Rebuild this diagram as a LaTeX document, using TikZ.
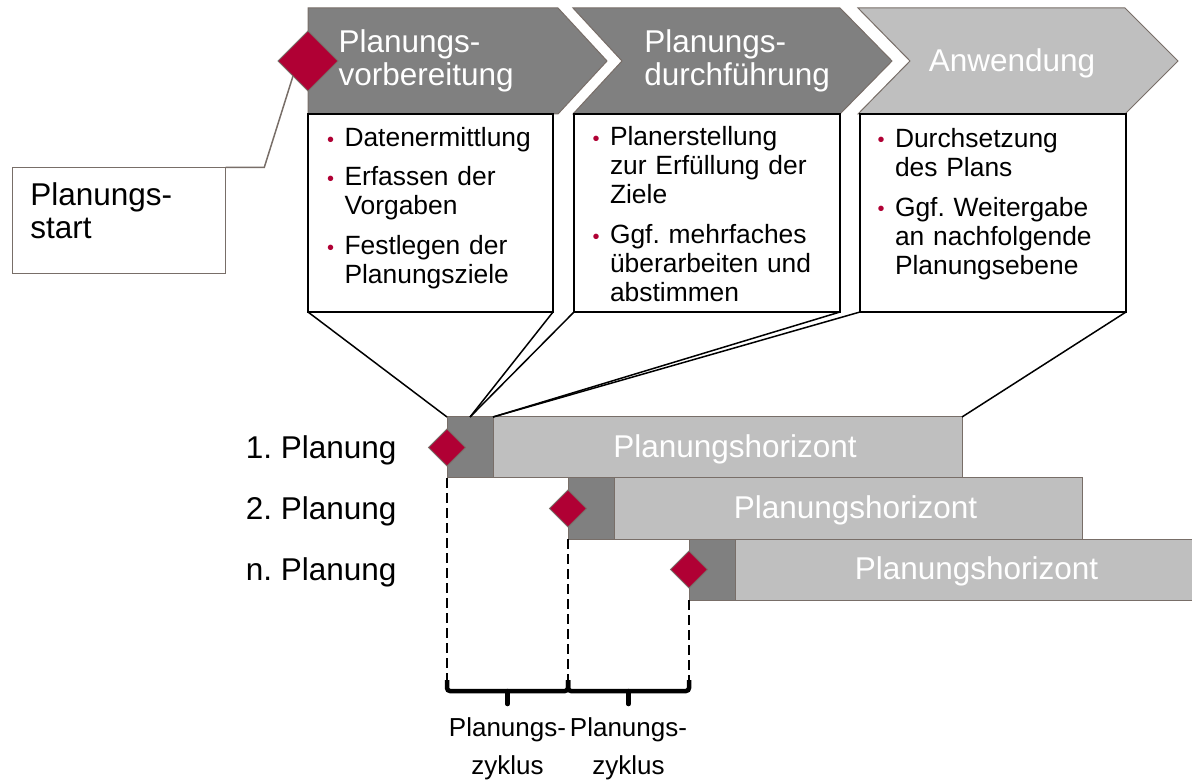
\documentclass[tikz,border=0pt]{standalone}
\usepackage{fontspec}
\setmainfont{Liberation Sans}
\usetikzlibrary{positioning,shapes.geometric,calc}
\definecolor{planred}{RGB}{176,0,52}
\definecolor{phasedark}{RGB}{128,128,128}
\definecolor{phaselight}{RGB}{191,191,191}
\definecolor{edgegray}{RGB}{120,110,104}
\tikzset{>=latex}
\newcommand\punkt[1]{\noindent\makebox[17.5pt][l]{\textcolor{planred}{\fontsize{20}{20}\selectfont\raisebox{0.5pt}{\char"2022}}}\parbox[t]{220pt}{\strut#1\strut}}

\begin{document}
\frenchspacing
\begin{tikzpicture}[x=1pt,y=-1pt,
  every node/.style={inner sep=0pt,outer sep=0pt},
  chev/.style={draw=edgegray,line width=1pt},
  chevtext/.style={text=white,align=left,font=\fontsize{31.5}{32.7}\selectfont},
  infobox/.style={draw=black,line width=2pt,fill=white,anchor=north west,minimum height=198pt},
  infotext/.style={anchor=north west,text width=240pt,font=\fontsize{26.4}{29}\selectfont},
  bardark/.style={draw=edgegray,line width=1pt,fill=phasedark,anchor=north west,minimum width=46pt,minimum height=61pt},
  barlight/.style={draw=edgegray,line width=1pt,fill=phaselight,anchor=north west,minimum height=61pt},
  bartext/.style={text=white,font=\fontsize{31.5}{31.5}\selectfont},
  rowlabel/.style={anchor=east,font=\fontsize{31.5}{31.5}\selectfont,yshift=-2.5pt},
  planmark/.style={diamond,draw=edgegray,line width=1pt,fill=planred,minimum size=37pt},
  projline/.style={draw=black,line width=1.5pt},
  cycleline/.style={draw=black,line width=1.5pt,dash pattern=on 10pt off 5pt},
  cyclebrace/.style={draw=black,line width=4.5pt,rounded corners=3pt},
  cycletext/.style={align=center,font=\fontsize{26}{38}\selectfont}
]
\useasboundingbox (0,0) rectangle (1192,783);

% phasen oben
\path[chev,fill=phasedark] (308,8) -- (558,8) -- (607,61) -- (558,114) -- (308,114) -- cycle;
\path[chev,fill=phasedark] (573,8) -- (840,8) -- (892,61) -- (840,114) -- (573,114) -- (622,61) -- cycle;
\path[chev,fill=phaselight] (858,8) -- (1125,8) -- (1178,61) -- (1125,114) -- (858,114) -- (910,61) -- cycle;
\node[chevtext,anchor=west] (c1text) at (338.6,61) {Planungs-\\vorbereitung};
\node[chevtext,anchor=west] (c2text) at (644.3,61) {Planungs-\\durchführung};
\node[chevtext] (c3text) at (1012,63) {Anwendung};
\node[planmark,minimum size=60pt] (startmark) at (308,61) {};

% planungsstart
\node[draw=edgegray,line width=1.5pt,anchor=north west,minimum width=213pt,minimum height=106pt] (startbox) at (12.7,167.3) {};
\node[anchor=north west,align=left,font=\fontsize{31.5}{32.3}\selectfont] (starttext) at ($(startbox.north west)+(17.6,15.7)$) {Planungs-\\start};
\draw[draw=edgegray,line width=1.5pt] (startbox.north east) -- ++(38.6,0) -- (startmark.south west);

% inhalte
\node[infobox,minimum width=245pt] (box1) at (308,114) {};
\node[infobox,minimum width=266pt] (box2) at (574,114) {};
\node[infobox,minimum width=266pt] (box3) at (860,114) {};
\node[infotext] (list1) at ($(box1.north west)+(19,12.5)$) {\punkt{Datenermittlung}\par\vspace{10pt}\punkt{Erfassen der\\Vorgaben}\par\vspace{10pt}\punkt{Festlegen der\\Planungsziele}};
\node[infotext] (list2) at ($(box2.north west)+(18.5,11.7)$) {\punkt{Planerstellung\\zur Erfüllung der\\Ziele}\par\vspace{10pt}\punkt{Ggf. mehrfaches\\überarbeiten und\\abstimmen}};
\node[infotext] (list3) at ($(box3.north west)+(17.5,13)$) {\punkt{Durchsetzung\\des Plans}\par\vspace{10pt}\punkt{Ggf. Weitergabe\\an nachfolgende\\Planungsebene}};

% balken
\node[bardark] (d1) at (447,417) {};
\node[barlight,minimum width=469pt] (l1) at (d1.north east) {};
\node[bardark] (d2) at ($(d1.south west)+(121,0)$) {};
\node[barlight,minimum width=468pt] (l2) at (d2.north east) {};
\node[bardark] (d3) at ($(d2.south west)+(121,0)$) {};
\node[barlight,minimum width=468pt] (l3) at (d3.north east) {};
\node[bartext] (h1) at ($(l1.center)+(7.5,2)$) {Planungshorizont};
\node[bartext] (h2) at ($(l2.center)+(7.5,2)$) {Planungshorizont};
\node[bartext] (h3) at ($(l3.center)+(7.5,2)$) {Planungshorizont};
\node[planmark] (m1) at (d1.west) {};
\node[planmark] (m2) at (d2.west) {};
\node[planmark] (m3) at (d3.west) {};
\node[rowlabel] (r1) at ($(d1.west)+(-50.5,0)$) {1. Planung};
\node[rowlabel] (r2) at ($(d1.west |- d2.west)+(-50.5,0)$) {2. Planung};
\node[rowlabel] (r3) at ($(d1.west |- d3.west)+(-50.5,0)$) {n. Planung};

% projektion
\draw[projline] (box1.south west) -- (d1.north west);
\draw[projline] (box1.south east) -- (d1.north);
\draw[projline] (box2.south west) -- (d1.north);
\draw[projline] (box2.south east) -- (d1.north east);
\draw[projline] (box3.south west) -- (d1.north east);
\draw[projline] (box3.south east) -- (l1.north east);

% zyklen
\coordinate (zyk) at (0,680);
\draw[cycleline] (d1.south west) -- (d1.south west |- zyk);
\draw[cycleline] (d2.south west) -- (d2.south west |- zyk);
\draw[cycleline] (d3.south west) -- (d3.south west |- zyk);
\draw[cyclebrace] (d1.south west |- zyk) -- ++(0,11) -| (d2.south west |- zyk);
\draw[cyclebrace] (d2.south west |- zyk) -- ++(0,11) -| (d3.south west |- zyk);
\coordinate (t1) at ($(d1.south west |- zyk)!0.5!(d2.south west |- zyk)+(0,11)$);
\coordinate (t2) at ($(d2.south west |- zyk)!0.5!(d3.south west |- zyk)+(0,11)$);
\draw[line width=4.5pt,line cap=round] (t1) -- ++(0,13) coordinate (t1end);
\draw[line width=4.5pt,line cap=round] (t2) -- ++(0,13) coordinate (t2end);
\node[cycletext,below=14pt of t1end] (z1) {Planungs-\\zyklus};
\node[cycletext,below=14pt of t2end] (z2) {Planungs-\\zyklus};
\end{tikzpicture}
\end{document}
